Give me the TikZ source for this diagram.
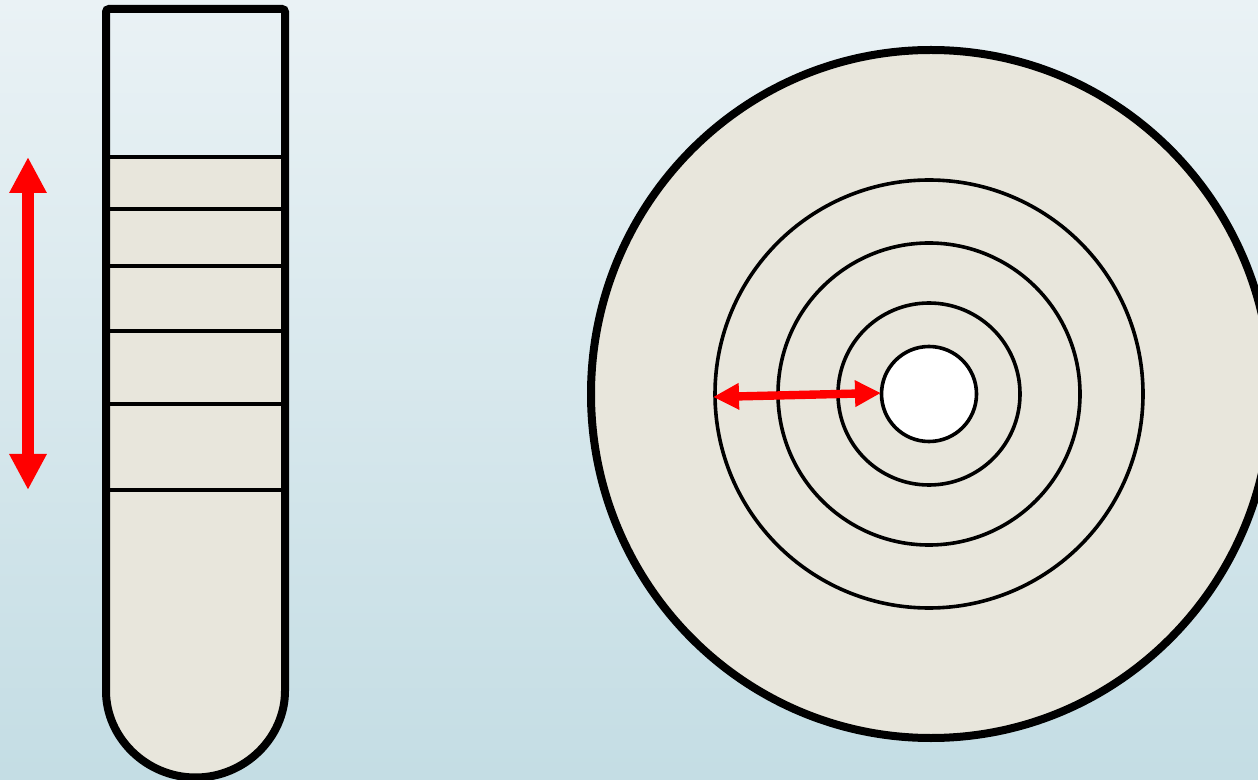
\documentclass[tikz,border=0pt]{standalone}
\usepackage{xcolor}
\usepackage{tikz}
\usetikzlibrary{arrows.meta}

\definecolor{bgtop}{HTML}{EAF2F5}
\definecolor{bgbot}{HTML}{C4DDE4}
\definecolor{gel}{HTML}{E8E6DC}

\begin{document}
\begin{tikzpicture}[x=0.5pt,y=-0.5pt,
wall/.style={line width=4pt,rounded corners=1.5pt},
band/.style={line width=1.8pt},
ring/.style={line width=1.8pt},
redarr/.style={{Triangle[length=18pt,width=17.5pt]}-{Triangle[length=18pt,width=17.5pt]},line width=6pt,red},
radarr/.style={{Triangle[length=13pt,width=12.5pt]}-{Triangle[length=13pt,width=12.5pt]},line width=4.2pt,red}]
\shade[top color=bgtop,bottom color=bgbot] (0,0) rectangle (1258,780);
\useasboundingbox (0,0) rectangle (1258,780);

% tube with layers
\begin{scope}
\clip (0,157) rectangle (1258,780);
\fill[gel] (106,9) -- (106,688) arc[start angle=180,end angle=0,radius=89.5] -- (285,9) -- cycle;
\end{scope}
\foreach \y in {157,209,266,331,404,490}
  \draw[band] (110,\y) -- (284,\y);
\draw[wall] (106,9) -- (106,688) arc[start angle=180,end angle=0,radius=89.5] -- (285,9) -- cycle;

\coordinate (gradtop) at (28,157);
\coordinate (gradbot) at (28,490);
\draw[redarr] (gradtop) -- (gradbot);

% rotor seen from above
\coordinate (hub) at (929,394);
\fill[gel] (931,394) ellipse[x radius=340,y radius=344];
\draw[line width=4pt] (931,394) ellipse[x radius=340,y radius=344];
\foreach \r in {214,151,91}
  \draw[ring] (hub) circle[radius=\r];
\draw[ring,fill=white] (hub) circle[radius=47.5];

\coordinate (rin) at (713,397);
\coordinate (rout) at (881,393);
\draw[radarr] (rin) -- (rout);
\end{tikzpicture}
\end{document}
